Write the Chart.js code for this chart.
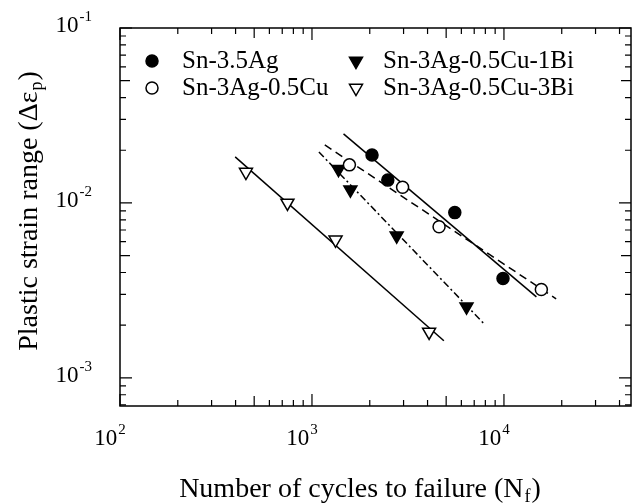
<!DOCTYPE html>
<html>
<head>
<meta charset="utf-8">
<script src="https://cdn.jsdelivr.net/npm/chart.js@4.4.0/dist/chart.umd.min.js"></script>
<style>
  html, body { margin: 0; padding: 0; background: #fff; }
  #wrap { width: 640px; height: 503px; }
</style>
</head>
<body>
<div id="wrap"><canvas id="chart"></canvas></div>
<script>
// measured points (cycles to failure, plastic strain range)
const agCycles = [2055, 2483, 5546, 9886];
const agStrain = [0.0188, 0.0135, 0.0088, 0.0037];
const cuCycles = [1567, 2965, 4592, 15660];
const cuStrain = [0.0165, 0.0123, 0.0073, 0.0032];
const bi1Cycles = [1374, 1585, 2761, 6382];
const bi1Strain = [0.0156, 0.0119, 0.0065, 0.00255];
const bi3Cycles = [453, 745, 1327, 4074];
const bi3Strain = [0.0150, 0.0100, 0.00615, 0.00183];

// fit lines, end points
const agFitCycles = [1460, 14760];
const agFitStrain = [0.0248, 0.0029];
const cuFitCycles = [1166, 18700];
const cuFitStrain = [0.02145, 0.00283];
const bi1FitCycles = [1087, 7800];
const bi1FitStrain = [0.01954, 0.00206];
const bi3FitCycles = [398, 4864];
const bi3FitStrain = [0.01832, 0.00163];

const seriesNames = ['Sn-3.5Ag', 'Sn-3Ag-0.5Cu', 'Sn-3Ag-0.5Cu-1Bi', 'Sn-3Ag-0.5Cu-3Bi'];
const xTickValues = [100, 1000, 10000];
const yTickValues = [0.001, 0.01, 0.1];
const xLimits = [100, 45900];
const yLimits = [0.00069, 0.1];

const SERIF = '"Liberation Serif", "Times New Roman", serif';

const pts = (xs, ys) => xs.map((x, i) => ({ x, y: ys[i] }));

const markerStyles = [
    { pointStyle: 'circle', radius: 6, rotation: 0, fill: '#000' },
    { pointStyle: 'circle', radius: 6, rotation: 0, fill: '#fff' },
    { pointStyle: 'triangle', radius: 7.5, rotation: 180, fill: '#000' },
    { pointStyle: 'triangle', radius: 7.5, rotation: 180, fill: '#fff' }
];

const pointSet = (name, xs, ys, st) => ({
    label: name,
    data: pts(xs, ys),
    showLine: false,
    pointStyle: st.pointStyle,
    pointRadius: st.radius,
    pointRotation: st.rotation,
    pointBackgroundColor: st.fill,
    pointBorderColor: '#000',
    pointBorderWidth: 1.5,
    order: 1
});

const lineSet = (xs, ys, dash) => ({
    label: '',
    data: pts(xs, ys),
    showLine: true,
    pointRadius: 0,
    borderColor: '#000',
    borderWidth: 1.5,
    borderDash: dash,
    order: 2
});

// little helper for "10" with a raised exponent
const drawPower = (ctx, exp, x, baseline, align) => {
    ctx.font = '23px ' + SERIF;
    const w10 = ctx.measureText('10').width;
    ctx.font = '15px ' + SERIF;
    const wExp = ctx.measureText(exp).width;
    const total = w10 + 1 + wExp;
    const start = align === 'right' ? x - total : x - total / 2;
    ctx.font = '23px ' + SERIF;
    ctx.fillText('10', start, baseline);
    ctx.font = '15px ' + SERIF;
    ctx.fillText(exp, start + w10 + 1, baseline - 11);
};

const decoration = {
    id: 'decoration',
    afterDraw(chart) {
        const { ctx, chartArea: a, scales } = chart;
        const xs = scales.x, ys = scales.y;
        ctx.save();
        ctx.strokeStyle = '#000';
        ctx.fillStyle = '#000';

        // frame
        ctx.lineWidth = 1.5;
        ctx.strokeRect(a.left, a.top, a.right - a.left, a.bottom - a.top);

        // inward ticks on all four sides
        const tickLen = m => (m === 1 ? 12 : m === 5 ? 10 : 6);
        ctx.lineWidth = 1.2;
        const eachTick = (min, max, fn) => {
            for (let e = Math.floor(Math.log10(min)); e <= Math.ceil(Math.log10(max)); e++) {
                for (let m = 1; m <= 9; m++) {
                    const v = m * Math.pow(10, e);
                    if (v >= min * 0.999 && v <= max * 1.001) fn(v, m);
                }
            }
        };
        ctx.beginPath();
        eachTick(xs.min, xs.max, (v, m) => {
            const px = xs.getPixelForValue(v);
            ctx.moveTo(px, a.bottom); ctx.lineTo(px, a.bottom - tickLen(m));
            ctx.moveTo(px, a.top); ctx.lineTo(px, a.top + tickLen(m));
        });
        eachTick(ys.min, ys.max, (v, m) => {
            const py = ys.getPixelForValue(v);
            ctx.moveTo(a.left, py); ctx.lineTo(a.left + tickLen(m), py);
            ctx.moveTo(a.right, py); ctx.lineTo(a.right - tickLen(m), py);
        });
        ctx.stroke();

        // tick labels
        ctx.textAlign = 'left';
        ctx.textBaseline = 'alphabetic';
        xTickValues.forEach(v => {
            drawPower(ctx, String(Math.round(Math.log10(v))), xs.getPixelForValue(v) - 10, 445, 'center');
        });
        yTickValues.forEach(v => {
            drawPower(ctx, String(Math.round(Math.log10(v))), 92, ys.getPixelForValue(v) + 4, 'right');
        });

        // axis titles
        const titleWithSub = (main, sub, x, baseline) => {
            ctx.font = '28px ' + SERIF;
            const wMain = ctx.measureText(main).width;
            const wClose = ctx.measureText(')').width;
            ctx.font = '18px ' + SERIF;
            const wSub = ctx.measureText(sub).width;
            const start = x - (wMain + wSub + 2 + wClose) / 2;
            ctx.font = '28px ' + SERIF;
            ctx.fillText(main, start, baseline);
            ctx.fillText(')', start + wMain + wSub + 2, baseline);
            ctx.font = '18px ' + SERIF;
            ctx.fillText(sub, start + wMain + 1, baseline + 5);
        };
        titleWithSub('Number of cycles to failure (N', 'f', 360, 497);
        ctx.save();
        ctx.translate(37, 211);
        ctx.rotate(-Math.PI / 2);
        titleWithSub('Plastic strain range (\u0394\u03b5', 'p', 0, 0);
        ctx.restore();

        // legend, two columns inside the frame
        const legendPos = [[152, 61], [152, 88], [356, 61], [356, 88]];
        seriesNames.forEach((name, i) => {
            const st = markerStyles[i];
            const [mx, my] = legendPos[i];
            ctx.fillStyle = st.fill;
            ctx.strokeStyle = '#000';
            ctx.lineWidth = 1.5;
            Chart.helpers.drawPoint(ctx, {
                pointStyle: st.pointStyle, radius: st.radius, rotation: st.rotation, borderWidth: 1.5
            }, mx, my);
            ctx.fillStyle = '#000';
            ctx.font = '25px ' + SERIF;
            ctx.fillText(name, mx + (i < 2 ? 30 : 27), my + 7);
        });
        ctx.restore();
    }
};

new Chart(document.getElementById('chart'), {
    type: 'scatter',
    data: {
        datasets: [
            pointSet(seriesNames[0], agCycles, agStrain, markerStyles[0]),
            pointSet(seriesNames[1], cuCycles, cuStrain, markerStyles[1]),
            pointSet(seriesNames[2], bi1Cycles, bi1Strain, markerStyles[2]),
            pointSet(seriesNames[3], bi3Cycles, bi3Strain, markerStyles[3]),
            lineSet(agFitCycles, agFitStrain, []),
            lineSet(cuFitCycles, cuFitStrain, [8, 5]),
            lineSet(bi1FitCycles, bi1FitStrain, [7, 3, 2, 3]),
            lineSet(bi3FitCycles, bi3FitStrain, [])
        ]
    },
    options: {
        responsive: true,
        maintainAspectRatio: false,
        animation: false,
        layout: { padding: { top: 28, right: 1, left: 0, bottom: 0 } },
        plugins: { legend: { display: false }, tooltip: { enabled: false } },
        scales: {
            x: {
                type: 'logarithmic',
                min: xLimits[0],
                max: xLimits[1],
                grid: { display: false },
                border: { display: false },
                ticks: { display: false },
                afterBuildTicks: s => { s.ticks = xTickValues.map(v => ({ value: v })); },
                afterFit: s => { s.height = 97; }
            },
            y: {
                type: 'logarithmic',
                min: yLimits[0],
                max: yLimits[1],
                grid: { display: false },
                border: { display: false },
                ticks: { display: false },
                afterBuildTicks: s => { s.ticks = yTickValues.map(v => ({ value: v })); },
                afterFit: s => { s.width = 120; }
            }
        }
    },
    plugins: [decoration]
});
</script>
</body>
</html>
